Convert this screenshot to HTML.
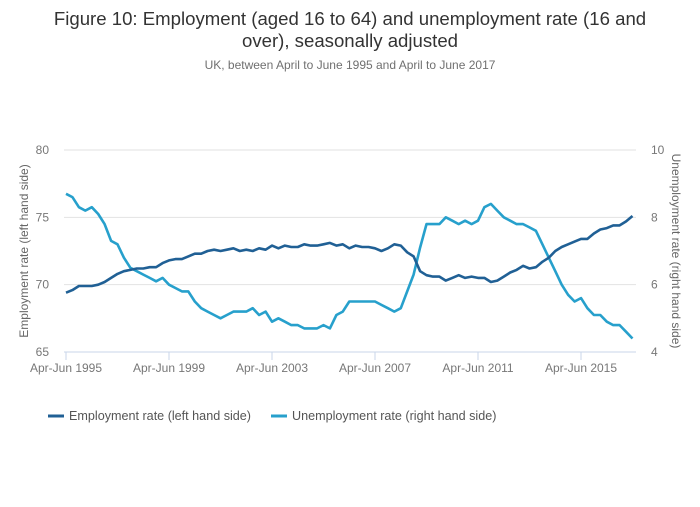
<!DOCTYPE html>
<html><head><meta charset="utf-8"><style>
body{margin:0;background:#fff;font-family:"Liberation Sans",sans-serif;}
svg text{font-family:"Liberation Sans",sans-serif;}
</style></head><body>
<svg id="chart" width="700" height="502" xmlns="http://www.w3.org/2000/svg">
<text x="350" y="25" text-anchor="middle" font-size="18.6" fill="#333">Figure 10: Employment (aged 16 to 64) and unemployment rate (16 and</text>
<text x="350" y="47" text-anchor="middle" font-size="18.6" fill="#333">over), seasonally adjusted</text>
<text x="350" y="69" text-anchor="middle" font-size="12" fill="#707070">UK, between April to June 1995 and April to June 2017</text>
<g id="grid"></g>
<g id="axes"></g>
<g id="series"></g>
<text transform="translate(28,251) rotate(-90)" text-anchor="middle" font-size="12" fill="#666">Employment rate (left hand side)</text>
<text transform="translate(672,251) rotate(90)" text-anchor="middle" font-size="12" fill="#666">Unemployment rate (right hand side)</text>
<g>
<line x1="48" y1="416" x2="64" y2="416" stroke="#206095" stroke-width="3"/>
<text x="69" y="420" font-size="12.6" fill="#555">Employment rate (left hand side)</text>
<line x1="271" y1="416" x2="287" y2="416" stroke="#27a0cc" stroke-width="3"/>
<text x="292" y="420" font-size="12.6" fill="#555">Unemployment rate (right hand side)</text>
</g>
</svg>
<script>
const xTickLabels=["Apr-Jun 1995","Apr-Jun 1999","Apr-Jun 2003","Apr-Jun 2007","Apr-Jun 2011","Apr-Jun 2015"];
const xTickIdx=[0,16,32,48,64,80];
const leftTicks=[65,70,75,80];
const rightTicks=[4,6,8,10];
const employment=[69.4,69.6,69.9,
69.9,69.9,70.0,70.2,
70.5,70.8,71.0,71.1,
71.2,71.2,71.3,71.3,
71.6,71.8,71.9,71.9,
72.1,72.3,72.3,72.5,
72.6,72.5,72.6,72.7,
72.5,72.6,72.5,72.7,
72.6,72.9,72.7,72.9,
72.8,72.8,73.0,72.9,
72.9,73.0,73.1,72.9,
73.0,72.7,72.9,72.8,
72.8,72.7,72.5,72.7,
73.0,72.9,72.4,72.1,
71.0,70.7,70.6,70.6,
70.3,70.5,70.7,70.5,
70.6,70.5,70.5,70.2,
70.3,70.6,70.9,71.1,
71.4,71.2,71.3,71.7,
72.0,72.5,72.8,73.0,
73.2,73.4,73.4,73.8,
74.1,74.2,74.4,74.4,
74.7,75.1];
const unemployment=[8.7,8.6,8.3,
8.2,8.3,8.1,7.8,
7.3,7.2,6.8,6.5,
6.4,6.3,6.2,6.1,
6.2,6.0,5.9,5.8,
5.8,5.5,5.3,5.2,
5.1,5.0,5.1,5.2,
5.2,5.2,5.3,5.1,
5.2,4.9,5.0,4.9,
4.8,4.8,4.7,4.7,
4.7,4.8,4.7,5.1,
5.2,5.5,5.5,5.5,
5.5,5.5,5.4,5.3,
5.2,5.3,5.8,6.3,
7.1,7.8,7.8,7.8,
8.0,7.9,7.8,7.9,
7.8,7.9,8.3,8.4,
8.2,8.0,7.9,7.8,
7.8,7.7,7.6,7.2,
6.8,6.4,6.0,5.7,
5.5,5.6,5.3,5.1,
5.1,4.9,4.8,4.8,
4.6,4.4];
const NS="http://www.w3.org/2000/svg";
const x0=66,x1=632.5,yTop=150,yBot=352;
const n=employment.length;
function xs(i){return x0+(x1-x0)*i/(n-1);}
function yl(v){return yBot-(v-65)/15*(yBot-yTop);}
function yr(v){return yBot-(v-4)/6*(yBot-yTop);}
function mk(tag,attrs,parent){const e=document.createElementNS(NS,tag);for(const k in attrs)e.setAttribute(k,attrs[k]);parent.appendChild(e);return e;}
const grid=document.getElementById('grid'),axes=document.getElementById('axes'),ser=document.getElementById('series');
leftTicks.forEach((t,k)=>{
 const y=yl(t);
 const g=mk('line',{x1:64,x2:636,y1:y,y2:y,stroke:k===0?'#c8d6ea':'#e2e2e2','stroke-width':1},grid);
 
 
 const tl=mk('text',{x:49,y:y+4,'text-anchor':'end','font-size':12,fill:'#777'},axes);
 tl.textContent=t;
 
 
});
rightTicks.forEach(t=>{
 const tr=mk('text',{x:651,y:yr(t)+4,'text-anchor':'start','font-size':12,fill:'#777'},axes);
 tr.textContent=t;
 
 
});
xTickIdx.forEach((idx,k)=>{
 const x=xs(idx);
 const tk=mk('line',{x1:x,x2:x,y1:352,y2:360,stroke:'#c8d6ea','stroke-width':1},axes);
 
 
 const tx=mk('text',{x:x,y:372,'text-anchor':'middle','font-size':12,fill:'#777'},axes);
 tx.textContent=xTickLabels[k];
 
 
});
const pu=mk('polyline',{points:unemployment.map((v,i)=>xs(i).toFixed(1)+','+yr(v).toFixed(1)).join(' '),fill:'none',stroke:'#27a0cc','stroke-width':2.6,'stroke-linejoin':'round'},ser);


const pe=mk('polyline',{points:employment.map((v,i)=>xs(i).toFixed(1)+','+yl(v).toFixed(1)).join(' '),fill:'none',stroke:'#206095','stroke-width':2.6,'stroke-linejoin':'round'},ser);


</script>
</body></html>
